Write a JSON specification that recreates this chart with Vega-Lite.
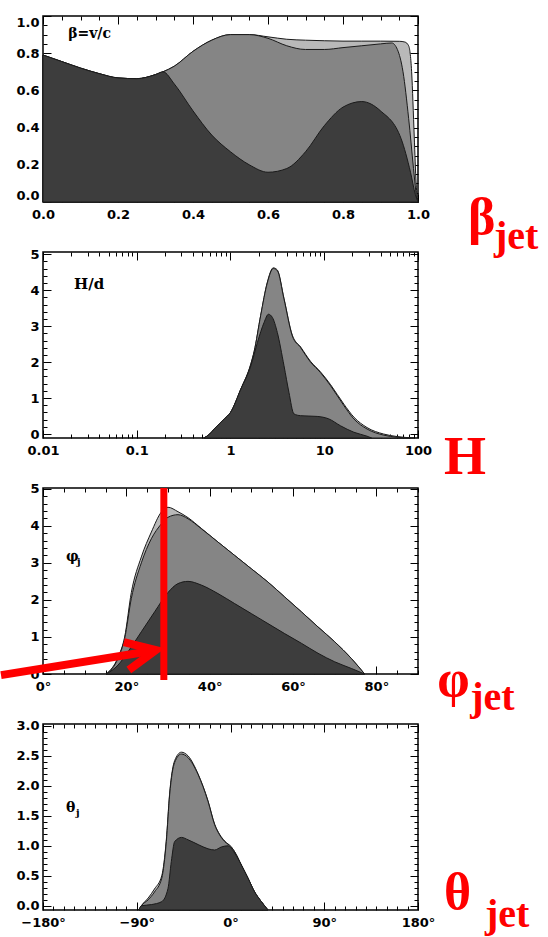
{
  "$schema": "https://vega.github.io/schema/vega-lite/v6.json",
  "background": "white",
  "padding": {"left": -16, "top": 14, "right": 0, "bottom": 0},
  "spacing": 50,
  "bounds": "flush",
  "config": {
    "view": {"stroke": "#000", "strokeWidth": 1.5},
    "axis": {"domain": false, "grid": false, "tickColor": "#000", "tickWidth": 1, "labelFont": "DejaVu Sans", "labelFontWeight": "bold", "labelFontSize": 13, "labelColor": "#000", "labelOverlap": false, "zindex": 1}
  },
  "datasets": {
    "one": [{}],
    "beta": [
      {"s":"L","x":0,"y":0.79},{"s":"L","x":0.05,"y":0.755},{"s":"L","x":0.1,"y":0.72},{"s":"L","x":0.15,"y":0.69},{"s":"L","x":0.2,"y":0.667},{"s":"L","x":0.25,"y":0.663},{"s":"L","x":0.3,"y":0.685},{"s":"L","x":0.32,"y":0.70},{"s":"L","x":0.35,"y":0.73},{"s":"L","x":0.4,"y":0.81},{"s":"L","x":0.45,"y":0.87},{"s":"L","x":0.5,"y":0.90},{"s":"L","x":0.55,"y":0.90},{"s":"L","x":0.6,"y":0.888},{"s":"L","x":0.65,"y":0.875},{"s":"L","x":0.7,"y":0.87},{"s":"L","x":0.75,"y":0.867},{"s":"L","x":0.8,"y":0.865},{"s":"L","x":0.85,"y":0.865},{"s":"L","x":0.9,"y":0.865},{"s":"L","x":0.95,"y":0.864},{"s":"L","x":0.965,"y":0.86},{"s":"L","x":0.975,"y":0.84},{"s":"L","x":0.983,"y":0.7},{"s":"L","x":0.99,"y":0.35},{"s":"L","x":0.995,"y":0.1},{"s":"L","x":1.0,"y":0},
      {"s":"M","x":0,"y":0.79},{"s":"M","x":0.05,"y":0.755},{"s":"M","x":0.1,"y":0.72},{"s":"M","x":0.15,"y":0.69},{"s":"M","x":0.2,"y":0.667},{"s":"M","x":0.25,"y":0.663},{"s":"M","x":0.3,"y":0.685},{"s":"M","x":0.32,"y":0.70},{"s":"M","x":0.35,"y":0.73},{"s":"M","x":0.4,"y":0.81},{"s":"M","x":0.45,"y":0.87},{"s":"M","x":0.5,"y":0.90},{"s":"M","x":0.55,"y":0.90},{"s":"M","x":0.6,"y":0.88},{"s":"M","x":0.65,"y":0.84},{"s":"M","x":0.7,"y":0.82},{"s":"M","x":0.75,"y":0.82},{"s":"M","x":0.8,"y":0.83},{"s":"M","x":0.85,"y":0.84},{"s":"M","x":0.9,"y":0.85},{"s":"M","x":0.93,"y":0.855},{"s":"M","x":0.945,"y":0.82},{"s":"M","x":0.96,"y":0.7},{"s":"M","x":0.975,"y":0.45},{"s":"M","x":0.988,"y":0.18},{"s":"M","x":0.997,"y":0},
      {"s":"D","x":0,"y":0.79},{"s":"D","x":0.05,"y":0.755},{"s":"D","x":0.1,"y":0.72},{"s":"D","x":0.15,"y":0.69},{"s":"D","x":0.2,"y":0.667},{"s":"D","x":0.25,"y":0.663},{"s":"D","x":0.3,"y":0.685},{"s":"D","x":0.32,"y":0.70},{"s":"D","x":0.35,"y":0.635},{"s":"D","x":0.4,"y":0.49},{"s":"D","x":0.45,"y":0.36},{"s":"D","x":0.5,"y":0.27},{"s":"D","x":0.55,"y":0.2},{"s":"D","x":0.6,"y":0.16},{"s":"D","x":0.65,"y":0.18},{"s":"D","x":0.7,"y":0.27},{"s":"D","x":0.75,"y":0.41},{"s":"D","x":0.8,"y":0.51},{"s":"D","x":0.85,"y":0.54},{"s":"D","x":0.9,"y":0.49},{"s":"D","x":0.955,"y":0.34},{"s":"D","x":0.98,"y":0.16},{"s":"D","x":0.993,"y":0.04},{"s":"D","x":1.0,"y":0}
    ],
    "hd": [
      {"s":"L","x":0.52,"y":-0.11},{"s":"L","x":0.6,"y":0.0},{"s":"L","x":0.67,"y":0.14},{"s":"L","x":0.86,"y":0.42},{"s":"L","x":1.0,"y":0.6},{"s":"L","x":1.29,"y":1.25},{"s":"L","x":1.65,"y":1.95},{"s":"L","x":1.79,"y":2.3},{"s":"L","x":2.1,"y":3.3},{"s":"L","x":2.47,"y":4.22},{"s":"L","x":2.86,"y":4.62},{"s":"L","x":3.16,"y":4.56},{"s":"L","x":3.72,"y":3.77},{"s":"L","x":4.56,"y":2.75},{"s":"L","x":5.6,"y":2.42},{"s":"L","x":7.14,"y":2.02},{"s":"L","x":9.1,"y":1.73},{"s":"L","x":11.7,"y":1.37},{"s":"L","x":16.2,"y":0.83},{"s":"L","x":20.7,"y":0.47},{"s":"L","x":28.6,"y":0.18},{"s":"L","x":43,"y":0.0},{"s":"L","x":60,"y":-0.07},{"s":"L","x":90,"y":-0.11},
      {"s":"M","x":0.52,"y":-0.11},{"s":"M","x":0.6,"y":0.0},{"s":"M","x":0.67,"y":0.14},{"s":"M","x":0.86,"y":0.42},{"s":"M","x":1.0,"y":0.6},{"s":"M","x":1.29,"y":1.25},{"s":"M","x":1.65,"y":1.95},{"s":"M","x":1.79,"y":2.3},{"s":"M","x":2.1,"y":3.3},{"s":"M","x":2.47,"y":4.2},{"s":"M","x":2.86,"y":4.6},{"s":"M","x":3.16,"y":4.54},{"s":"M","x":3.72,"y":3.75},{"s":"M","x":4.56,"y":2.73},{"s":"M","x":5.6,"y":2.4},{"s":"M","x":7.14,"y":2.0},{"s":"M","x":9.1,"y":1.71},{"s":"M","x":11.7,"y":1.34},{"s":"M","x":16.2,"y":0.79},{"s":"M","x":20.7,"y":0.42},{"s":"M","x":28.6,"y":0.14},{"s":"M","x":43,"y":-0.03},{"s":"M","x":60,"y":-0.09},{"s":"M","x":83,"y":-0.11},
      {"s":"D","x":0.52,"y":-0.11},{"s":"D","x":0.6,"y":0.0},{"s":"D","x":0.67,"y":0.14},{"s":"D","x":0.86,"y":0.42},{"s":"D","x":1.0,"y":0.6},{"s":"D","x":1.29,"y":1.25},{"s":"D","x":1.65,"y":1.9},{"s":"D","x":1.94,"y":2.55},{"s":"D","x":2.28,"y":3.1},{"s":"D","x":2.54,"y":3.33},{"s":"D","x":2.8,"y":3.24},{"s":"D","x":3.16,"y":2.82},{"s":"D","x":3.72,"y":1.9},{"s":"D","x":4.2,"y":1.16},{"s":"D","x":4.75,"y":0.56},{"s":"D","x":5.6,"y":0.51},{"s":"D","x":8.4,"y":0.49},{"s":"D","x":11.2,"y":0.42},{"s":"D","x":14.9,"y":0.23},{"s":"D","x":20.7,"y":0.05},{"s":"D","x":28.6,"y":-0.06},{"s":"D","x":32,"y":-0.11}
    ],
    "phi": [
      {"s":"L","x":15.2,"y":0},{"s":"L","x":18,"y":0.45},{"s":"L","x":19.6,"y":1.0},{"s":"L","x":21.2,"y":2.2},{"s":"L","x":23.6,"y":3.16},{"s":"L","x":26,"y":3.83},{"s":"L","x":28.4,"y":4.37},{"s":"L","x":30,"y":4.5},{"s":"L","x":32.4,"y":4.38},{"s":"L","x":34.8,"y":4.22},{"s":"L","x":38,"y":3.93},{"s":"L","x":42,"y":3.56},{"s":"L","x":46,"y":3.2},{"s":"L","x":50,"y":2.84},{"s":"L","x":54,"y":2.48},{"s":"L","x":58,"y":2.08},{"s":"L","x":62,"y":1.68},{"s":"L","x":66,"y":1.27},{"s":"L","x":70,"y":0.87},{"s":"L","x":74,"y":0.42},{"s":"L","x":77.2,"y":0},
      {"s":"M","x":15.2,"y":0},{"s":"M","x":18,"y":0.42},{"s":"M","x":19.6,"y":0.96},{"s":"M","x":21.2,"y":2.04},{"s":"M","x":23.6,"y":3.0},{"s":"M","x":26,"y":3.65},{"s":"M","x":28.4,"y":4.05},{"s":"M","x":30,"y":4.23},{"s":"M","x":32.4,"y":4.3},{"s":"M","x":34.8,"y":4.19},{"s":"M","x":38,"y":3.92},{"s":"M","x":42,"y":3.56},{"s":"M","x":46,"y":3.2},{"s":"M","x":50,"y":2.84},{"s":"M","x":54,"y":2.48},{"s":"M","x":58,"y":2.08},{"s":"M","x":62,"y":1.68},{"s":"M","x":66,"y":1.27},{"s":"M","x":70,"y":0.87},{"s":"M","x":74,"y":0.42},{"s":"M","x":77.2,"y":0},
      {"s":"D","x":15.2,"y":0},{"s":"D","x":18,"y":0.24},{"s":"D","x":20.4,"y":0.6},{"s":"D","x":23.6,"y":1.14},{"s":"D","x":26.8,"y":1.68},{"s":"D","x":30,"y":2.2},{"s":"D","x":32.4,"y":2.44},{"s":"D","x":34.8,"y":2.5},{"s":"D","x":38,"y":2.4},{"s":"D","x":42,"y":2.17},{"s":"D","x":46,"y":1.9},{"s":"D","x":50,"y":1.63},{"s":"D","x":54,"y":1.36},{"s":"D","x":58,"y":1.09},{"s":"D","x":62,"y":0.83},{"s":"D","x":66,"y":0.56},{"s":"D","x":70,"y":0.33},{"s":"D","x":74,"y":0.15},{"s":"D","x":77.2,"y":0}
    ],
    "theta": [
      {"s":"L","x":-88,"y":-0.07},{"s":"L","x":-85.6,"y":0.0},{"s":"L","x":-79,"y":0.13},{"s":"L","x":-73,"y":0.28},{"s":"L","x":-66,"y":0.5},{"s":"L","x":-61.6,"y":1.1},{"s":"L","x":-58.4,"y":1.88},{"s":"L","x":-53.6,"y":2.42},{"s":"L","x":-47.2,"y":2.56},{"s":"L","x":-40.8,"y":2.5},{"s":"L","x":-31.2,"y":2.2},{"s":"L","x":-21.6,"y":1.75},{"s":"L","x":-15.2,"y":1.36},{"s":"L","x":-10.4,"y":1.19},{"s":"L","x":-5.6,"y":1.08},{"s":"L","x":0.8,"y":0.98},{"s":"L","x":4,"y":0.9},{"s":"L","x":10.4,"y":0.68},{"s":"L","x":16.8,"y":0.46},{"s":"L","x":23.2,"y":0.23},{"s":"L","x":29.6,"y":0.07},{"s":"L","x":36,"y":-0.07},
      {"s":"M","x":-88,"y":-0.07},{"s":"M","x":-85.6,"y":0.0},{"s":"M","x":-79,"y":0.1},{"s":"M","x":-73,"y":0.23},{"s":"M","x":-66,"y":0.46},{"s":"M","x":-61.6,"y":1.07},{"s":"M","x":-58.4,"y":1.85},{"s":"M","x":-53.6,"y":2.39},{"s":"M","x":-47.2,"y":2.53},{"s":"M","x":-40.8,"y":2.47},{"s":"M","x":-31.2,"y":2.19},{"s":"M","x":-21.6,"y":1.74},{"s":"M","x":-15.2,"y":1.35},{"s":"M","x":-10.4,"y":1.18},{"s":"M","x":-5.6,"y":1.07},{"s":"M","x":0.8,"y":0.98},{"s":"M","x":4,"y":0.9},{"s":"M","x":10.4,"y":0.68},{"s":"M","x":16.8,"y":0.46},{"s":"M","x":23.2,"y":0.23},{"s":"M","x":29.6,"y":0.07},{"s":"M","x":36,"y":-0.07},
      {"s":"D","x":-88,"y":-0.07},{"s":"D","x":-85.6,"y":0.0},{"s":"D","x":-76,"y":0.02},{"s":"D","x":-66,"y":0.07},{"s":"D","x":-60,"y":0.29},{"s":"D","x":-56.8,"y":0.74},{"s":"D","x":-53.6,"y":1.07},{"s":"D","x":-47,"y":1.14},{"s":"D","x":-40.8,"y":1.1},{"s":"D","x":-31,"y":1.02},{"s":"D","x":-21.6,"y":0.95},{"s":"D","x":-15.2,"y":0.93},{"s":"D","x":-8.8,"y":0.98},{"s":"D","x":-2.4,"y":1.0},{"s":"D","x":4,"y":0.88},{"s":"D","x":10.4,"y":0.68},{"s":"D","x":16.8,"y":0.46},{"s":"D","x":23.2,"y":0.23},{"s":"D","x":29.6,"y":0.07},{"s":"D","x":36,"y":-0.07}
    ]
  },
  "vconcat": [
    {
      "width": 375, "height": 186,
      "data": {"name": "beta"},
      "resolve": {"axis": {"x": "independent", "y": "independent"}},
      "layer": [
        {"transform": [{"filter": "datum.s==='L'"}],
         "mark": {"type": "area", "color": "#b9b9b9", "stroke": "#1a1a1a", "strokeWidth": 1, "interpolate": "monotone"},
         "encoding": {
           "x": {"field": "x", "type": "quantitative", "scale": {"domain": [0, 1], "nice": false, "zero": false},
                 "axis": {"orient": "bottom", "title": null, "labelFlush": false, "labelPadding": 14,
                          "values": [0,0.05,0.1,0.15,0.2,0.25,0.3,0.35,0.4,0.45,0.5,0.55,0.6,0.65,0.7,0.75,0.8,0.85,0.9,0.95,1],
                          "labelExpr": "abs(datum.value*5-round(datum.value*5))<0.001 ? format(datum.value,'.1f') : ''",
                          "tickSize": {"condition": {"test": "abs(datum.value*5-round(datum.value*5))<0.001", "value": -8}, "value": -4}}},
           "y": {"field": "y", "type": "quantitative", "scale": {"domain": [0, 1], "nice": false, "zero": false},
                 "axis": {"orient": "left", "title": null, "labelFlush": true, "labelPadding": 12,
                          "values": [0,0.05,0.1,0.15,0.2,0.25,0.3,0.35,0.4,0.45,0.5,0.55,0.6,0.65,0.7,0.75,0.8,0.85,0.9,0.95,1],
                          "labelExpr": "abs(datum.value*5-round(datum.value*5))<0.001 ? format(datum.value,'.1f') : ''",
                          "tickSize": {"condition": {"test": "abs(datum.value*5-round(datum.value*5))<0.001", "value": -8}, "value": -4}}}
         }},
        {"transform": [{"filter": "datum.s==='M'"}],
         "mark": {"type": "area", "color": "#858585", "stroke": "#1a1a1a", "strokeWidth": 1, "interpolate": "monotone"},
         "encoding": {
           "x": {"field": "x", "type": "quantitative",
                 "axis": {"orient": "top", "title": null, "labels": false,
                          "values": [0,0.05,0.1,0.15,0.2,0.25,0.3,0.35,0.4,0.45,0.5,0.55,0.6,0.65,0.7,0.75,0.8,0.85,0.9,0.95,1],
                          "tickSize": {"condition": {"test": "abs(datum.value*5-round(datum.value*5))<0.001", "value": -8}, "value": -4}}},
           "y": {"field": "y", "type": "quantitative",
                 "axis": {"orient": "right", "title": null, "labels": false,
                          "values": [0,0.05,0.1,0.15,0.2,0.25,0.3,0.35,0.4,0.45,0.5,0.55,0.6,0.65,0.7,0.75,0.8,0.85,0.9,0.95,1],
                          "tickSize": {"condition": {"test": "abs(datum.value*5-round(datum.value*5))<0.001", "value": -8}, "value": -4}}}
         }},
        {"transform": [{"filter": "datum.s==='D'"}],
         "mark": {"type": "area", "color": "#3d3d3d", "stroke": "#1a1a1a", "strokeWidth": 1, "interpolate": "monotone"},
         "encoding": {"x": {"field": "x", "type": "quantitative", "axis": null}, "y": {"field": "y", "type": "quantitative", "axis": null}}},
        {"data": {"name": "one"},
         "mark": {"type": "text", "text": "β=v/c", "font": "DejaVu Serif", "fontWeight": "bold", "fontSize": 14, "align": "left", "baseline": "alphabetic", "color": "#000"},
         "encoding": {"x": {"datum": 0.067, "axis": null}, "y": {"datum": 0.88, "axis": null}}},
        {"data": {"name": "one"},
         "mark": {"type": "text", "text": "β", "font": "Liberation Serif", "fontWeight": "bold", "fontSize": 52, "align": "left", "baseline": "alphabetic", "color": "#ff0000"},
         "encoding": {"x": {"datum": 1.133, "axis": null}, "y": {"datum": -0.172, "axis": null}}},
        {"data": {"name": "one"},
         "mark": {"type": "text", "text": "jet", "font": "Liberation Serif", "fontWeight": "bold", "fontSize": 40, "align": "left", "baseline": "alphabetic", "color": "#ff0000", "dx": 26, "dy": 15},
         "encoding": {"x": {"datum": 1.133, "axis": null}, "y": {"datum": -0.172, "axis": null}}}
      ]
    },
    {
      "width": 375, "height": 186,
      "data": {"name": "hd"},
      "resolve": {"axis": {"x": "independent", "y": "independent"}},
      "layer": [
        {"transform": [{"filter": "datum.s==='L'"}],
         "mark": {"type": "area", "color": "#b9b9b9", "stroke": "#1a1a1a", "strokeWidth": 1, "interpolate": "monotone"},
         "encoding": {
           "x": {"field": "x", "type": "quantitative", "scale": {"type": "log", "domain": [0.01, 100], "nice": false},
                 "axis": {"orient": "bottom", "title": null, "labelFlush": false, "labelPadding": 14,
                          "values": [0.01,0.02,0.03,0.04,0.05,0.06,0.07,0.08,0.09,0.1,0.2,0.3,0.4,0.5,0.6,0.7,0.8,0.9,1,2,3,4,5,6,7,8,9,10,20,30,40,50,60,70,80,90,100],
                          "labelExpr": "abs(log(datum.value)/LN10-round(log(datum.value)/LN10))<0.001 ? format(datum.value,'~g') : ''",
                          "tickSize": {"condition": {"test": "abs(log(datum.value)/LN10-round(log(datum.value)/LN10))<0.001", "value": -8}, "value": -4}}},
           "y": {"field": "y", "type": "quantitative", "scale": {"domain": [-0.11, 5.06], "nice": false, "zero": false},
                 "axis": {"orient": "left", "title": null, "labelFlush": false, "labelPadding": 12,
                          "values": [0,0.2,0.4,0.6,0.8,1,1.2,1.4,1.6,1.8,2,2.2,2.4,2.6,2.8,3,3.2,3.4,3.6,3.8,4,4.2,4.4,4.6,4.8,5],
                          "labelExpr": "abs(datum.value-round(datum.value))<0.001 ? format(datum.value,'d') : ''",
                          "tickSize": {"condition": {"test": "abs(datum.value-round(datum.value))<0.001", "value": -8}, "value": -4}}},
           "y2": {"datum": -0.11}
         }},
        {"transform": [{"filter": "datum.s==='M'"}],
         "mark": {"type": "area", "color": "#858585", "stroke": "#1a1a1a", "strokeWidth": 1, "interpolate": "monotone"},
         "encoding": {
           "x": {"field": "x", "type": "quantitative",
                 "axis": {"orient": "top", "title": null, "labels": false,
                          "values": [0.01,0.02,0.03,0.04,0.05,0.06,0.07,0.08,0.09,0.1,0.2,0.3,0.4,0.5,0.6,0.7,0.8,0.9,1,2,3,4,5,6,7,8,9,10,20,30,40,50,60,70,80,90,100],
                          "tickSize": {"condition": {"test": "abs(log(datum.value)/LN10-round(log(datum.value)/LN10))<0.001", "value": -8}, "value": -4}}},
           "y": {"field": "y", "type": "quantitative",
                 "axis": {"orient": "right", "title": null, "labels": false,
                          "values": [0,0.2,0.4,0.6,0.8,1,1.2,1.4,1.6,1.8,2,2.2,2.4,2.6,2.8,3,3.2,3.4,3.6,3.8,4,4.2,4.4,4.6,4.8,5],
                          "tickSize": {"condition": {"test": "abs(datum.value-round(datum.value))<0.001", "value": -8}, "value": -4}}},
           "y2": {"datum": -0.11}
         }},
        {"transform": [{"filter": "datum.s==='D'"}],
         "mark": {"type": "area", "color": "#3d3d3d", "stroke": "#1a1a1a", "strokeWidth": 1, "interpolate": "monotone"},
         "encoding": {"x": {"field": "x", "type": "quantitative", "axis": null}, "y": {"field": "y", "type": "quantitative", "axis": null}, "y2": {"datum": -0.11}}},
        {"data": {"name": "one"},
         "mark": {"type": "text", "text": "H/d", "font": "DejaVu Serif", "fontWeight": "bold", "fontSize": 15, "align": "left", "baseline": "alphabetic", "color": "#000"},
         "encoding": {"x": {"datum": 0.0214, "axis": null}, "y": {"datum": 4.03, "axis": null}}},
        {"data": {"name": "one"},
         "mark": {"type": "text", "text": "H", "font": "Liberation Serif", "fontWeight": "bold", "fontSize": 54, "align": "left", "baseline": "alphabetic", "color": "#ff0000"},
         "encoding": {"x": {"datum": 189, "axis": null}, "y": {"datum": -1.11, "axis": null}}}
      ]
    },
    {
      "width": 375, "height": 186,
      "data": {"name": "phi"},
      "resolve": {"axis": {"x": "independent", "y": "independent"}},
      "layer": [
        {"transform": [{"filter": "datum.s==='L'"}],
         "mark": {"type": "area", "color": "#b9b9b9", "stroke": "#1a1a1a", "strokeWidth": 1, "interpolate": "monotone"},
         "encoding": {
           "x": {"field": "x", "type": "quantitative", "scale": {"domain": [0, 90], "nice": false, "zero": false},
                 "axis": {"orient": "bottom", "title": null, "labelFlush": false, "labelPadding": 14,
                          "values": [0,5,10,15,20,25,30,35,40,45,50,55,60,65,70,75,80,85,90],
                          "labelExpr": "datum.value%20===0 && datum.value<90 ? datum.value+'°' : ''",
                          "tickSize": {"condition": {"test": "datum.value%20===0", "value": -8}, "value": -4}}},
           "y": {"field": "y", "type": "quantitative", "scale": {"domain": [0, 5.02], "nice": false, "zero": false},
                 "axis": {"orient": "left", "title": null, "labelFlush": false, "labelPadding": 12, "zindex": 0,
                          "values": [0,0.2,0.4,0.6,0.8,1,1.2,1.4,1.6,1.8,2,2.2,2.4,2.6,2.8,3,3.2,3.4,3.6,3.8,4,4.2,4.4,4.6,4.8,5],
                          "labelExpr": "abs(datum.value-round(datum.value))<0.001 ? format(datum.value,'d') : ''",
                          "tickSize": {"condition": {"test": "abs(datum.value-round(datum.value))<0.001", "value": -8}, "value": -4}}}
         }},
        {"transform": [{"filter": "datum.s==='M'"}],
         "mark": {"type": "area", "color": "#858585", "stroke": "#1a1a1a", "strokeWidth": 1, "interpolate": "monotone"},
         "encoding": {
           "x": {"field": "x", "type": "quantitative",
                 "axis": {"orient": "top", "title": null, "labels": false,
                          "values": [0,5,10,15,20,25,30,35,40,45,50,55,60,65,70,75,80,85,90],
                          "tickSize": {"condition": {"test": "datum.value%20===0", "value": -8}, "value": -4}}},
           "y": {"field": "y", "type": "quantitative",
                 "axis": {"orient": "right", "title": null, "labels": false,
                          "values": [0,0.2,0.4,0.6,0.8,1,1.2,1.4,1.6,1.8,2,2.2,2.4,2.6,2.8,3,3.2,3.4,3.6,3.8,4,4.2,4.4,4.6,4.8,5],
                          "tickSize": {"condition": {"test": "abs(datum.value-round(datum.value))<0.001", "value": -8}, "value": -4}}}
         }},
        {"transform": [{"filter": "datum.s==='D'"}],
         "mark": {"type": "area", "color": "#3d3d3d", "stroke": "#1a1a1a", "strokeWidth": 1, "interpolate": "monotone"},
         "encoding": {"x": {"field": "x", "type": "quantitative", "axis": null}, "y": {"field": "y", "type": "quantitative", "axis": null}}},
        {"data": {"name": "one"},
         "mark": {"type": "text", "text": "φ", "font": "DejaVu Serif", "fontWeight": "bold", "fontSize": 14, "align": "left", "baseline": "alphabetic", "color": "#000"},
         "encoding": {"x": {"datum": 5.5, "axis": null}, "y": {"datum": 3.06, "axis": null}}},
        {"data": {"name": "one"},
         "mark": {"type": "text", "text": "j", "font": "DejaVu Serif", "fontWeight": "bold", "fontSize": 10, "align": "left", "baseline": "alphabetic", "color": "#000", "dx": 11, "dy": 4},
         "encoding": {"x": {"datum": 5.5, "axis": null}, "y": {"datum": 3.06, "axis": null}}},
        {"data": {"name": "one"},
         "mark": {"type": "rule", "color": "#ff0000", "strokeWidth": 7},
         "encoding": {"x": {"datum": 29, "axis": null}, "y": {"datum": 5.02, "axis": null}, "y2": {"datum": -0.16}}},
        {"data": {"values": [
           {"g": "shaft", "o": 0, "ax": -10.08, "ay": -0.03},
           {"g": "shaft", "o": 1, "ax": 26.0, "ay": 0.62},
           {"g": "head", "o": 0, "ax": 19.4, "ay": 0.86},
           {"g": "head", "o": 1, "ax": 27.1, "ay": 0.645},
           {"g": "head", "o": 2, "ax": 20.6, "ay": 0.11}
         ]},
         "mark": {"type": "line", "color": "#ff0000", "strokeWidth": 8, "strokeCap": "butt", "strokeJoin": "miter", "clip": false},
         "encoding": {"x": {"field": "ax", "type": "quantitative", "axis": null}, "y": {"field": "ay", "type": "quantitative", "axis": null},
                      "detail": {"field": "g"}, "order": {"field": "o"}}},
        {"data": {"name": "one"},
         "mark": {"type": "text", "text": "φ", "font": "Liberation Serif", "fontWeight": "bold", "fontSize": 52, "align": "left", "baseline": "alphabetic", "color": "#ff0000"},
         "encoding": {"x": {"datum": 94.6, "axis": null}, "y": {"datum": -0.59, "axis": null}}},
        {"data": {"name": "one"},
         "mark": {"type": "text", "text": "jet", "font": "Liberation Serif", "fontWeight": "bold", "fontSize": 40, "align": "left", "baseline": "alphabetic", "color": "#ff0000", "dx": 33, "dy": 14},
         "encoding": {"x": {"datum": 94.6, "axis": null}, "y": {"datum": -0.59, "axis": null}}}
      ]
    },
    {
      "width": 375, "height": 186,
      "data": {"name": "theta"},
      "resolve": {"axis": {"x": "independent", "y": "independent"}},
      "layer": [
        {"transform": [{"filter": "datum.s==='L'"}],
         "mark": {"type": "area", "color": "#b9b9b9", "stroke": "#1a1a1a", "strokeWidth": 1, "interpolate": "monotone"},
         "encoding": {
           "x": {"field": "x", "type": "quantitative", "scale": {"domain": [-180, 180], "nice": false, "zero": false},
                 "axis": {"orient": "bottom", "title": null, "labelFlush": false, "labelPadding": 14,
                          "values": [-180,-170,-160,-150,-140,-130,-120,-110,-100,-90,-80,-70,-60,-50,-40,-30,-20,-10,0,10,20,30,40,50,60,70,80,90,100,110,120,130,140,150,160,170,180],
                          "labelExpr": "datum.value%90===0 ? (datum.value<0 ? '−'+abs(datum.value) : ''+datum.value)+'°' : ''",
                          "tickSize": {"condition": {"test": "datum.value%90===0", "value": -8}, "value": -4}}},
           "y": {"field": "y", "type": "quantitative", "scale": {"domain": [-0.07, 3.03], "nice": false, "zero": false},
                 "axis": {"orient": "left", "title": null, "labelFlush": false, "labelPadding": 12,
                          "values": [0,0.1,0.2,0.3,0.4,0.5,0.6,0.7,0.8,0.9,1,1.1,1.2,1.3,1.4,1.5,1.6,1.7,1.8,1.9,2,2.1,2.2,2.3,2.4,2.5,2.6,2.7,2.8,2.9,3],
                          "labelExpr": "abs(datum.value*2-round(datum.value*2))<0.001 ? format(datum.value,'.1f') : ''",
                          "tickSize": {"condition": {"test": "abs(datum.value*2-round(datum.value*2))<0.001", "value": -8}, "value": -4}}},
           "y2": {"datum": -0.07}
         }},
        {"transform": [{"filter": "datum.s==='M'"}],
         "mark": {"type": "area", "color": "#858585", "stroke": "#1a1a1a", "strokeWidth": 1, "interpolate": "monotone"},
         "encoding": {
           "x": {"field": "x", "type": "quantitative",
                 "axis": {"orient": "top", "title": null, "labels": false,
                          "values": [-180,-170,-160,-150,-140,-130,-120,-110,-100,-90,-80,-70,-60,-50,-40,-30,-20,-10,0,10,20,30,40,50,60,70,80,90,100,110,120,130,140,150,160,170,180],
                          "tickSize": {"condition": {"test": "datum.value%90===0", "value": -8}, "value": -4}}},
           "y": {"field": "y", "type": "quantitative",
                 "axis": {"orient": "right", "title": null, "labels": false,
                          "values": [0,0.1,0.2,0.3,0.4,0.5,0.6,0.7,0.8,0.9,1,1.1,1.2,1.3,1.4,1.5,1.6,1.7,1.8,1.9,2,2.1,2.2,2.3,2.4,2.5,2.6,2.7,2.8,2.9,3],
                          "tickSize": {"condition": {"test": "abs(datum.value*2-round(datum.value*2))<0.001", "value": -8}, "value": -4}}},
           "y2": {"datum": -0.07}
         }},
        {"transform": [{"filter": "datum.s==='D'"}],
         "mark": {"type": "area", "color": "#3d3d3d", "stroke": "#1a1a1a", "strokeWidth": 1, "interpolate": "monotone"},
         "encoding": {"x": {"field": "x", "type": "quantitative", "axis": null}, "y": {"field": "y", "type": "quantitative", "axis": null}, "y2": {"datum": -0.07}}},
        {"data": {"name": "one"},
         "mark": {"type": "text", "text": "θ", "font": "DejaVu Serif", "fontWeight": "bold", "fontSize": 14, "align": "left", "baseline": "alphabetic", "color": "#000"},
         "encoding": {"x": {"datum": -158, "axis": null}, "y": {"datum": 1.56, "axis": null}}},
        {"data": {"name": "one"},
         "mark": {"type": "text", "text": "j", "font": "DejaVu Serif", "fontWeight": "bold", "fontSize": 10, "align": "left", "baseline": "alphabetic", "color": "#000", "dx": 10, "dy": 4},
         "encoding": {"x": {"datum": -158, "axis": null}, "y": {"datum": 1.56, "axis": null}}},
        {"data": {"name": "one"},
         "mark": {"type": "text", "text": "θ", "font": "Liberation Serif", "fontWeight": "bold", "fontSize": 52, "align": "left", "baseline": "alphabetic", "color": "#ff0000"},
         "encoding": {"x": {"datum": 205, "axis": null}, "y": {"datum": -0.05, "axis": null}}},
        {"data": {"name": "one"},
         "mark": {"type": "text", "text": "jet", "font": "Liberation Serif", "fontWeight": "bold", "fontSize": 40, "align": "left", "baseline": "alphabetic", "color": "#ff0000", "dx": 41, "dy": 18},
         "encoding": {"x": {"datum": 205, "axis": null}, "y": {"datum": -0.05, "axis": null}}}
      ]
    }
  ]
}
